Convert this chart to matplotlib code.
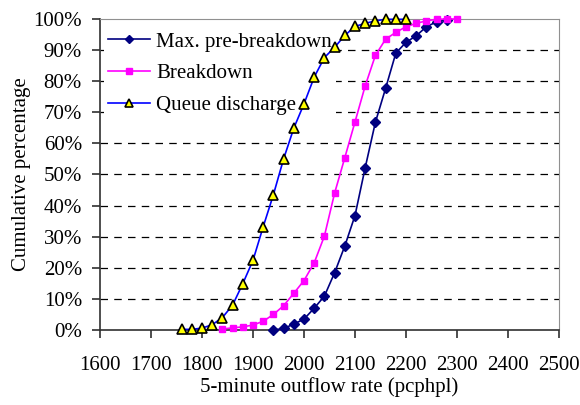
import matplotlib
matplotlib.use("Agg")
import matplotlib.pyplot as plt
from matplotlib.ticker import FuncFormatter

plt.rcParams['font.family'] = ['Liberation Serif', 'DejaVu Serif']
plt.rcParams['font.size'] = 15

# cumulative distributions of 5-minute outflow rates
pre_x = [1940, 1960, 1980, 2000, 2020, 2040, 2060, 2080, 2100, 2120, 2140,
         2160, 2180, 2200, 2220, 2240, 2260, 2280]
pre_y = [0.0, 0.5, 1.9, 3.5, 7.0, 10.9, 18.4, 27.0, 36.8, 52.2, 66.8,
         77.7, 89.0, 92.5, 94.6, 97.5, 99.1, 99.8]

brk_x = [1840, 1860, 1880, 1900, 1920, 1940, 1960, 1980, 2000, 2020, 2040,
         2060, 2080, 2100, 2120, 2140, 2160, 2180, 2200, 2220, 2240, 2260,
         2280, 2300]
brk_y = [0.3, 0.7, 1.0, 1.6, 2.8, 5.0, 7.8, 11.8, 15.9, 21.6, 30.2,
         44.0, 55.4, 66.9, 78.5, 88.3, 93.5, 95.7, 97.5, 98.6, 99.4, 99.9,
         100.0, 100.0]

qd_x = [1760, 1780, 1800, 1820, 1840, 1860, 1880, 1900, 1920, 1940, 1960,
        1980, 2000, 2020, 2040, 2060, 2080, 2100, 2120, 2140, 2160, 2180,
        2200]
qd_y = [0.2, 0.2, 0.6, 1.7, 4.0, 8.0, 14.9, 22.4, 33.2, 43.5, 55.0,
        64.9, 72.7, 81.3, 87.6, 90.9, 94.7, 97.6, 98.6, 99.4, 99.9, 99.9,
        99.9]

fig = plt.figure(figsize=(5.8, 4.05), dpi=100)
ax = fig.add_axes([0.1724, 0.1852, 0.7914, 0.7679])

ax.plot(pre_x, pre_y, color='#000080', lw=1.2, marker='D', ms=5,
        mfc='#000080', mec='#000080', label='Max. pre-breakdown',
        zorder=3, clip_on=False)
ax.plot(brk_x, brk_y, color='#FF00FF', lw=1.2, marker='s', ms=5,
        mfc='#FF00FF', mec='#FF00FF', label='Breakdown',
        zorder=3, clip_on=False)
ax.plot(qd_x, qd_y, color='#0000FF', lw=1.2, marker='^', ms=6.5,
        mfc='#FFFF00', mec='black', mew=1.2, label='Queue discharge',
        zorder=3, clip_on=False)

ax.set_xlim(1600, 2500)
ax.set_ylim(0, 100)
ax.set_xticks(range(1600, 2501, 100))
ax.set_yticks(range(0, 101, 10))
ax.yaxis.set_major_formatter(FuncFormatter(lambda v, p: f'{v:.0f}%'))

for v in range(10, 100, 10):
    ax.axhline(v, color='black', lw=0.9, ls=(0, (6, 5)), zorder=1)

for s in ['top', 'right']:
    ax.spines[s].set_color('#909090')
for s in ['left', 'bottom']:
    ax.spines[s].set_color('#303030')
    ax.spines[s].set_linewidth(1.2)
ax.tick_params(direction='out', length=6, width=1.2, color='#303030',
               labelsize=15)
ax.tick_params(axis='y', pad=7)
ax.tick_params(axis='x', pad=13)

ax.set_xlabel('5-minute outflow rate (pcphpl)', fontsize=15, labelpad=1)
ax.set_ylabel('Cumulative percentage', fontsize=15, labelpad=2)

leg = ax.legend(loc='upper left', bbox_to_anchor=(0.0, 0.985), frameon=True,
                facecolor='white', edgecolor='none', framealpha=1,
                fancybox=False, handlelength=2.0, handletextpad=0.3,
                labelspacing=0.58, borderpad=0.2, borderaxespad=0.2,
                fontsize=15, markerscale=0.8)
leg.set_zorder(2.5)

fig.savefig('out.png', dpi=100)
